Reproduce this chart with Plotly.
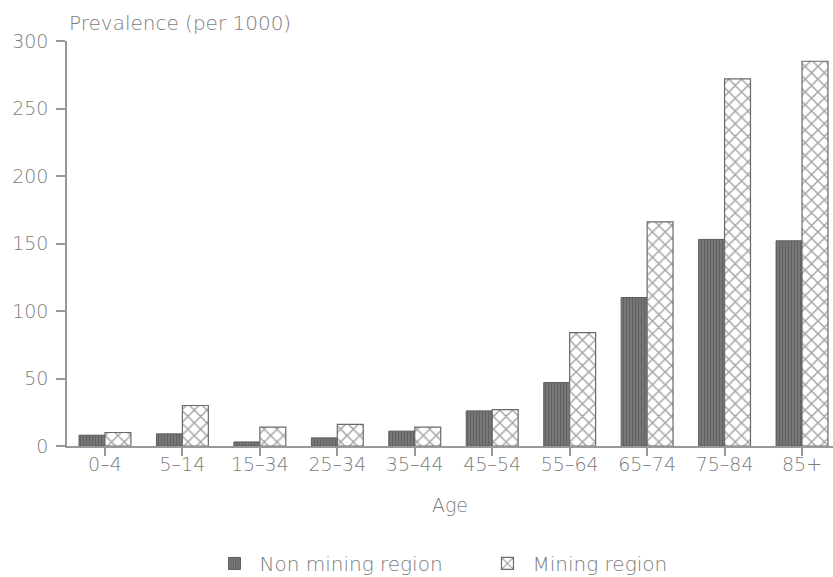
import plotly.graph_objects as go

ages = ["0–4", "5–14", "15–34", "25–34", "35–44", "45–54", "55–64", "65–74", "75–84", "85+"]
non_mining = [8, 9, 3, 6, 11, 26, 47, 110, 153, 152]
mining = [10, 30, 14, 16, 14, 27, 84, 166, 272, 285]
y_ticks = [0, 50, 100, 150, 200, 250, 300]

TXT = "#7c7c7c"
FONT = "DejaVu Sans"
FS = 19

fig = go.Figure()
fig.add_trace(go.Bar(
    x=ages, y=non_mining, name="Non mining region",
    marker=dict(color="#747474",
                line=dict(color="#5e5e5e", width=1),
                pattern=dict(shape="|", fgcolor="#454545", bgcolor="#7c7c7c",
                             size=3, solidity=0.45)),
))
fig.add_trace(go.Bar(
    x=ages, y=mining, name="Mining region",
    marker=dict(color="white",
                line=dict(color="#6a6a6a", width=1.2),
                pattern=dict(shape="x", fgcolor="#4a4a4a", bgcolor="white",
                             size=9, solidity=0.3)),
))

fig.update_layout(
    width=833, height=577,
    margin=dict(l=67, r=0, t=41, b=131, autoexpand=False),
    paper_bgcolor="white", plot_bgcolor="white",
    barmode="group", bargap=0.33, bargroupgap=0,
    font=dict(family=FONT, size=FS, color=TXT, weight=200),
    showlegend=True,
    legend=dict(orientation="h", x=0.186, xanchor="left", y=-0.29, yanchor="middle",
                font=dict(size=20, color=TXT, weight=200), itemwidth=40,
                entrywidth=218, entrywidthmode="pixels", tracegroupgap=0),
    xaxis=dict(range=[-0.49, 9.4], showline=True, linecolor="#999", linewidth=1.5,
               ticks="outside", ticklen=8, tickcolor="#999", tickwidth=1.5,
               showgrid=False, zeroline=False, ticklabelstandoff=-8,
               title=dict(text="Age", font=dict(size=FS, color=TXT, weight=200),
                          standoff=25)),
    yaxis=dict(range=[0, 300], tickvals=y_ticks, showline=True, linecolor="#999",
               linewidth=1.5, ticks="outside", ticklen=9, tickcolor="#999",
               tickwidth=1.5, showgrid=False, zeroline=False, ticklabelstandoff=4),
    annotations=[dict(text="Prevalence (per 1000)", xref="paper", yref="paper",
                      x=0, y=1, xanchor="left", yanchor="bottom", yshift=4,
                      showarrow=False,
                      font=dict(size=FS + 1, color=TXT, weight=200))],
    shapes=[dict(type="line", xref="paper", yref="paper", x0=-0.012, x1=0, y0=0, y1=0,
                 line=dict(color="#999", width=1.5))],
)

fig.write_html("out.html")
